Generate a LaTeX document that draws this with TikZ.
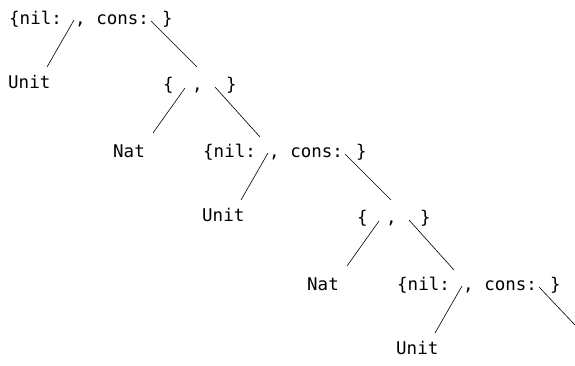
\documentclass[tikz,border=0pt]{standalone}
\usepackage{fontspec}
\setmonofont{DejaVu Sans Mono}
\usetikzlibrary{calc}

\begin{document}
\begin{tikzpicture}[
        x=1pt, y=-1pt,
        lbl/.style={anchor=base west, inner sep=0pt, font=\ttfamily\fontsize{17.5}{20}\selectfont},
        link/.style={draw, line width=0.6pt}
    ]
        \useasboundingbox (0,0) rectangle (575,365);

        % Record 1
        \node[lbl] (r1l) at (9,24) {\{nil:};
        \node[lbl] (r1m) at (75,24) {, cons:};
        \node[lbl] (r1r) at (162,24) {\}};
        \coordinate (r1nil) at (74,20);
        \coordinate (r1cons) at (151,21);
        \node[lbl] (u1) at (8,88) {Unit};

        % Pair 1
        \node[lbl] (p1l) at (163,90) {\{};
        \node[lbl] (p1m) at (192,90) {,};
        \node[lbl] (p1r) at (226,90) {\}};
        \coordinate (p1fst) at (185,88);
        \coordinate (p1snd) at (215,87);
        \node[lbl] (n1) at (113,157) {Nat};

        % Record 2
        \node[lbl] (r2l) at (203,157) {\{nil:};
        \node[lbl] (r2m) at (269,157) {, cons:};
        \node[lbl] (r2r) at (356,157) {\}};
        \coordinate (r2nil) at (268,153);
        \coordinate (r2cons) at (345,154);
        \node[lbl] (u2) at (202,221) {Unit};

        % Pair 2
        \node[lbl] (p2l) at (357,223) {\{};
        \node[lbl] (p2m) at (386,223) {,};
        \node[lbl] (p2r) at (420,223) {\}};
        \coordinate (p2fst) at (379,221);
        \coordinate (p2snd) at (409,220);
        \node[lbl] (n2) at (307,290) {Nat};

        % Record 3
        \node[lbl] (r3l) at (397,290) {\{nil:};
        \node[lbl] (r3m) at (463,290) {, cons:};
        \node[lbl] (r3r) at (550,290) {\}};
        \coordinate (r3nil) at (462,286);
        \coordinate (r3cons) at (539,287);
        \node[lbl] (u3) at (396,354) {Unit};
        \coordinate (tail) at (575,325);

        \draw[link] (r1nil) -- ([xshift=39pt,yshift=21pt]u1.base west);
        \draw[link] (r1cons) -- ([xshift=34pt,yshift=23pt]p1l.base west);
        \draw[link] (p1fst) -- ([xshift=40pt,yshift=24pt]n1.base west);
        \draw[link] (p1snd) -- ([xshift=57pt,yshift=20pt]r2l.base west);
        \draw[link] (r2nil) -- ([xshift=39pt,yshift=21pt]u2.base west);
        \draw[link] (r2cons) -- ([xshift=34pt,yshift=23pt]p2l.base west);
        \draw[link] (p2fst) -- ([xshift=40pt,yshift=24pt]n2.base west);
        \draw[link] (p2snd) -- ([xshift=57pt,yshift=20pt]r3l.base west);
        \draw[link] (r3nil) -- ([xshift=39pt,yshift=21pt]u3.base west);
        \draw[link] (r3cons) -- (tail);
    \end{tikzpicture}
\end{document}
